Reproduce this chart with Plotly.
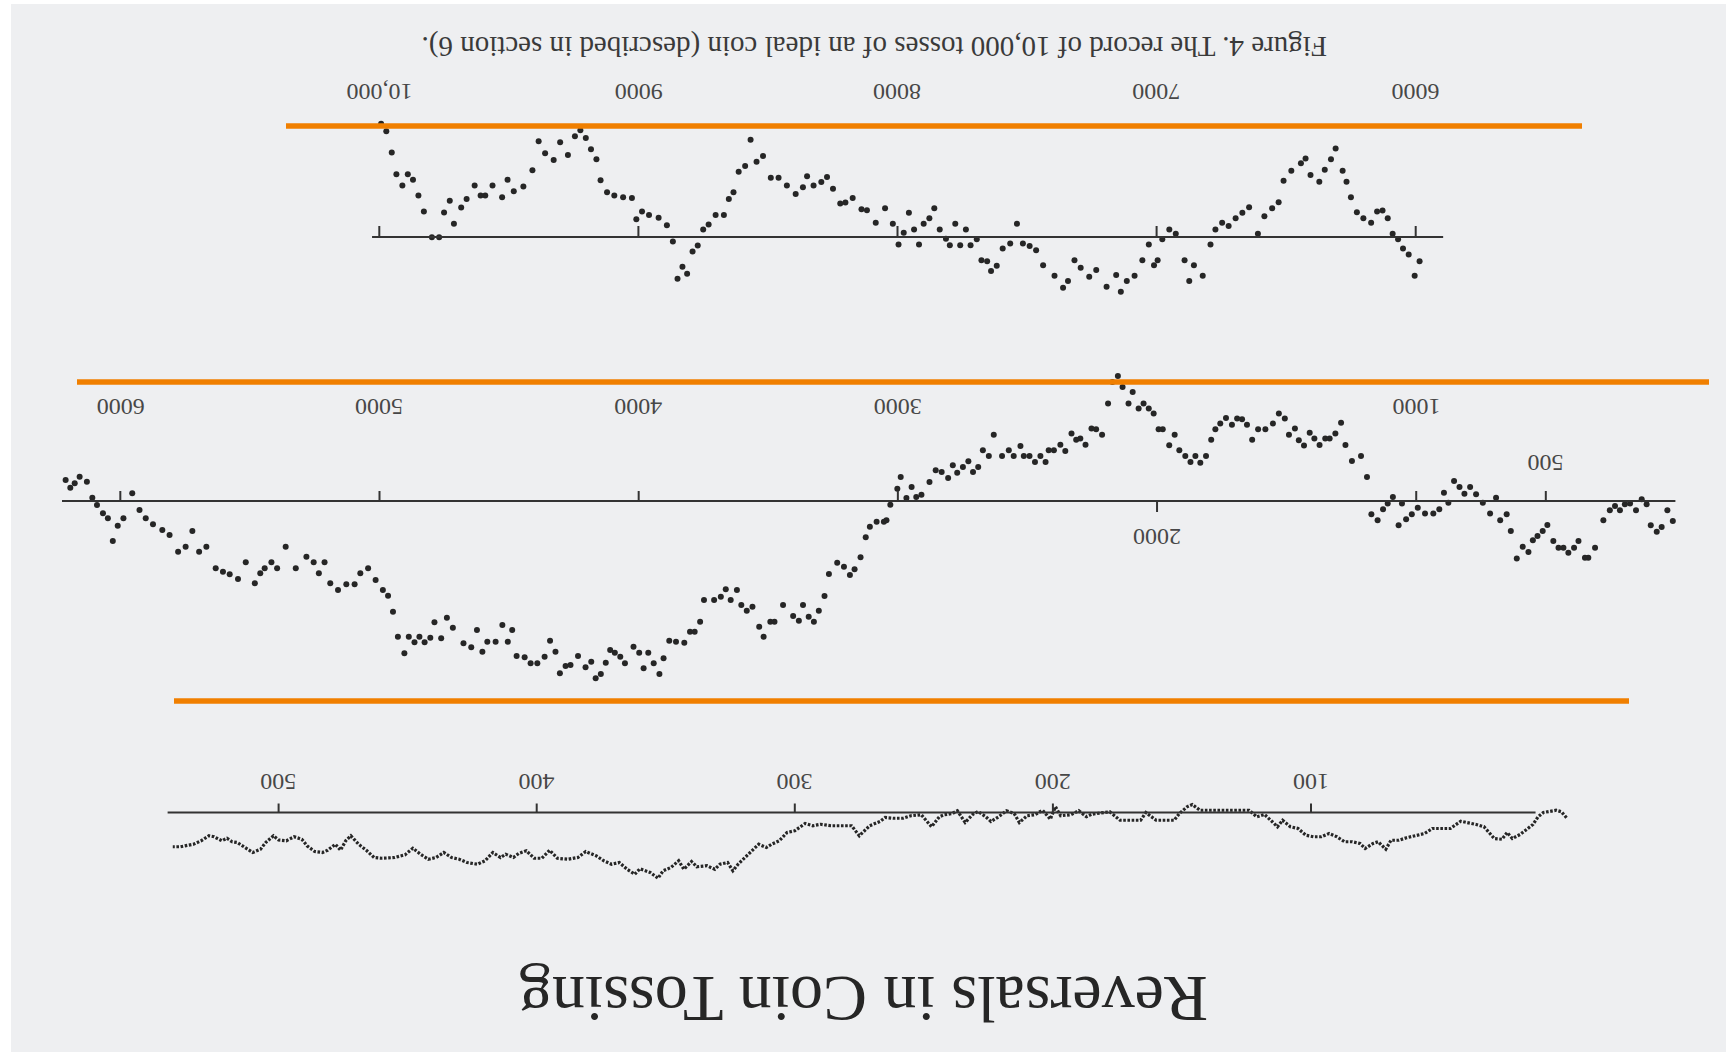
import plotly.graph_objects as go

# ---------------- data ----------------
# deviation of the walk (heads minus tails, arbitrary picture units) against toss number
top_toss = [5985, 6004, 6027, 6049, 6068, 6089, 6108, 6128, 6149, 6172, 6202, 6227, 6250, 6267, 6282,
            6309, 6327, 6351, 6372, 6406, 6425, 6443, 6480, 6510, 6529, 6554, 6584, 6609, 6643, 6669,
            6695, 6722, 6747, 6773, 6792, 6822, 6856, 6874, 6892, 6926, 6951, 6978, 6996, 7010, 7030,
            7055, 7085, 7115, 7138, 7156, 7193, 7233, 7260, 7293, 7317, 7342, 7361, 7394, 7438, 7465,
            7490, 7516, 7539, 7565, 7594, 7617, 7639, 7654, 7676, 7694, 7718, 7736, 7758, 7777, 7798,
            7813, 7837, 7858, 7877, 7899, 7917, 7936, 7956, 7976, 7996, 8018, 8048, 8084, 8118, 8139,
            8173, 8201, 8221, 8249, 8272, 8294, 8324, 8349, 8365, 8393, 8427, 8459, 8489, 8519, 8544,
            8567, 8588, 8613, 8633, 8651, 8670, 8702, 8729, 8750, 8771, 8791, 8812, 8830, 8849, 8867,
            8890, 8922, 8959, 8986, 9008, 9025, 9059, 9093, 9121, 9146, 9162, 9183, 9203, 9224, 9245,
            9272, 9302, 9327, 9360, 9385, 9409, 9444, 9481, 9505, 9526, 9563, 9591, 9609, 9632, 9663,
            9684, 9712, 9728, 9750, 9769, 9797, 9828, 9849, 9870, 9890, 9911, 9934, 9952, 9973, 9993]
top_dev = [9.7, 15.5, 7, 4.6, 0.9, -1.3, -7.5, -10.6, -10.2, -5.7, -7.5, -9.9, -15.9, -22.1, -26.5,
           -35.4, -31.1, -26.9, -22.1, -24.8, -31.4, -29.5, -26.5, -22.5, -13.9, -11.5, -8.3, -1.3, -11.9, -9.7,
           -7.5, -4.4, -5.7, -3, 3, 15.5, 11.3, 17.6, 9.3, -1.3, -3, 0.9, 9.3, 11.3, 3,
           9.3, 15.5, 17.6, 21.9, 15.2, 19.9, 13.2, 15.9, 12.3, 9.3, 17.6, 20.3, 15.5, 11.3, 5.3,
           3.6, 2.6, -5.3, 2.6, 4.6, 11.5, 13.6, 9.7, 9.3, 0.9, 3.3, -3, 3.3, -5.3, 3.3,
           0.7, -3, -11.5, -7.5, -5.3, 3, -3, -9.7, -1.7, 3, -5.3, -11.5, -5.7, -10.7, -11.1,
           -15.6, -13.8, -13.4, -19.3, -24, -22, -20.6, -24.3, -19.9, -17.2, -20.6, -23.7, -23.7, -32.4, -30.1,
           -38.9, -28.4, -26.1, -17.9, -15.2, -8.8, -8.8, -5, -3, 3.4, 5.8, 14.7, 11.9, 16.7, 1.8,
           -4.7, -7.7, -8.8, -10.2, -7.1, -15.6, -15.9, -16.6, -17.9, -22.7, -31.1, -35.1, -39.6, -42.7, -40.3,
           -32.8, -37.9, -30.8, -33.5, -38.3, -26.7, -20.2, -18.3, -22.9, -15.9, -20.6, -16.6, -16.6, -20.6, -15.2,
           -11.8, -5.3, -14.5, -9.8, 0.1, 0.1, -10.2, -16.6, -22.9, -25.1, -20.6, -25.1, -33.8, -42.3, -45.3]

mid_toss = [10, 31, 53, 72, 95, 111, 130, 152, 175, 195, 214, 233, 253, 278, 310, 336, 349, 374, 391, 413,
            432, 451, 471, 494, 512, 532, 550, 567, 589, 612, 635, 651, 676, 692, 715, 743, 769, 792, 814, 833,
            854, 876, 893, 911, 934, 966, 994, 1017, 1039, 1055, 1068, 1090, 1110, 1128, 1149, 1173, 1190, 1213, 1248, 1273,
            1290, 1312, 1334, 1351, 1373, 1393, 1411, 1433, 1453, 1468, 1491, 1507, 1530, 1553, 1582, 1610, 1633, 1653, 1672, 1691,
            1711, 1734, 1756, 1775, 1791, 1811, 1833, 1852, 1871, 1891, 1914, 1932, 1953, 1978, 1994, 2013, 2032, 2052, 2071, 2094,
            2110, 2133, 2151, 2172, 2189, 2212, 2235, 2253, 2276, 2296, 2312, 2330, 2354, 2373, 2398, 2418, 2430, 2450, 2471, 2492,
            2514, 2527, 2553, 2572, 2598, 2630, 2649, 2672, 2690, 2710, 2728, 2749, 2771, 2788, 2806, 2831, 2854, 2878, 2909, 2929,
            2947, 2967, 2989, 3002, 3029, 3044, 3054, 3082, 3108, 3124, 3144, 3167, 3185, 3208, 3234, 3266, 3283, 3305, 3324, 3344,
            3366, 3382, 3404, 3443, 3476, 3492, 3518, 3535, 3561, 3583, 3604, 3621, 3645, 3664, 3683, 3709, 3748, 3763, 3784, 3802,
            3824, 3856, 3882, 3904, 3920, 3942, 3963, 3981, 3998, 4020, 4053, 4071, 4092, 4110, 4127, 4146, 4166, 4183, 4205, 4234,
            4263, 4282, 4304, 4321, 4342, 4363, 4391, 4417, 4440, 4471, 4488, 4505, 4526, 4552, 4584, 4603, 4624, 4646, 4676, 4717,
            4740, 4762, 4788, 4804, 4826, 4846, 4865, 4887, 4904, 4929, 4948, 4967, 4987, 5015, 5044, 5074, 5096, 5128, 5160, 5190,
            5212, 5234, 5254, 5282, 5323, 5362, 5395, 5417, 5443, 5460, 5481, 5516, 5546, 5578, 5604, 5632, 5668, 5696, 5722, 5748,
            5777, 5810, 5838, 5874, 5902, 5926, 5954, 5988, 6010, 6029, 6048, 6067, 6090, 6108, 6129, 6157, 6176, 6193, 6211]
mid_dev = [8, 3.7, 10.4, 12.3, 9.7, 1.3, -0.7, 3.7, 1, 1.3, 3.7, 2, 3.7, 7.7, 18.7, 22.7, 22.7, 16, 18.7, 20.7,
           18.7, 18.7, 16, 9.6, 12, 14, 15.7, 20.4, 18.3, 23, 12, 5.3, 7.7, -1.3, 5, 0.7, -2.7, -5.6, -2.9, -5.6,
           -8, 0.7, -3.3, 3.3, 5, 5, 2.7, 5.3, 7.3, 1, 9.7, -1.6, 1, 3.3, 7.7, 5.3, -9.6, -18, -16, -22.4,
           -31.3, -27, -25, -25, -22.4, -25, -27.3, -22.2, -24.3, -29, -26.5, -33, -35, -31, -28.7, -28.7, -24.5, -30.5, -32.7, -33,
           -30.5, -33.2, -31, -28.7, -24.5, -18, -15.3, -18, -15.6, -18, -20.3, -26.5, -22.3, -28.7, -28.7, -35, -37, -39, -37, -43.6,
           -39, -45.6, -50, -47.6, -39, -26.5, -28.7, -29, -22.5, -25, -24.5, -27, -20, -22.5, -20.3, -20.3, -15.6, -18, -15.6, -18,
           -18, -22, -18, -20.3, -18, -26.5, -18, -20.3, -13.6, -11.6, -15.9, -13.6, -11.3, -14.3, -9.2, -11.6, -12.3, -7.6, -2.5, -1.6,
           -5.6, -1.2, -9.6, -4.9, 1.5, 7.7, 8.3, 8.3, 10.3, 14.5, 22.5, 27.3, 29.6, 26.3, 24.7, 29.2, 38, 43.9, 48.3, 46.3,
           41.6, 47.9, 46, 41.6, 48.3, 48.3, 54.3, 50.3, 42.3, 43.9, 41.6, 35.6, 39.6, 35.3, 38.3, 39.6, 39.6, 48.3, 52.3, 52.3,
           56.7, 56.3, 55.9, 62.9, 69.2, 64.9, 60.7, 66.9, 60.7, 58.3, 64.9, 62.3, 60.7, 59.6, 64.7, 69.2, 70.9, 64.3, 66.5, 62,
           65.6, 66, 68.9, 60.3, 55.9, 62.3, 64.9, 64.9, 62.5, 62, 51.6, 56.3, 49.6, 56.3, 56.3, 60.3, 51.6, 58.5, 56.9, 50.7,
           46.7, 54.9, 48.5, 54.7, 56.5, 54.3, 56.5, 54.3, 60.9, 54.3, 44.3, 37.9, 35.6, 31.6, 26.9, 28.9, 33.3, 33.3, 35.6, 32.9,
           24.5, 28.9, 24.5, 22.3, 26.9, 18.3, 26.9, 24.5, 26.9, 28.9, 32.9, 24.5, 31.2, 29.3, 28.3, 26.9, 18.3, 20.3, 12, 18.3,
           20.3, 13.6, 11.6, 9.3, 6.9, 3.6, -3.1, 6.9, 9.9, 16, 6.9, 4.9, 1.6, -1.3, -7.7, -9.7, -7.1, -5.3, -8.4]

bot_toss = [1, 3, 5, 8, 10, 12, 14, 16, 19, 22, 24, 26, 29, 31, 33, 36, 39, 42, 46, 50,
            53, 56, 60, 63, 66, 69, 71, 74, 76, 79, 81, 84, 87, 90, 93, 96, 99, 102, 105, 108,
            111, 113, 115, 118, 121, 124, 127, 131, 135, 139, 143, 146, 148, 151, 153, 156, 160, 164, 166, 170,
            174, 178, 182, 185, 187, 190, 193, 197, 199, 201, 204, 207, 210, 213, 215, 218, 221, 224, 226, 229,
            231, 234, 237, 239, 242, 244, 247, 249, 251, 255, 258, 262, 265, 267, 271, 273, 275, 278, 282, 286,
            290, 293, 296, 300, 303, 306, 309, 311, 314, 316, 319, 322, 324, 326, 329, 331, 334, 338, 340, 343,
            345, 348, 351, 353, 356, 360, 362, 365, 368, 371, 374, 377, 381, 384, 388, 392, 395, 398, 401, 404,
            407, 409, 412, 414, 417, 420, 423, 427, 430, 433, 436, 439, 442, 445, 448, 451, 455, 460, 463, 466,
            469, 472, 474, 476, 478, 481, 483, 486, 489, 491, 494, 497, 500, 502, 505, 507, 510, 512, 516, 518,
            520, 522, 525, 527, 530, 533, 538, 541]
bot_dev = [2.1, -0.3, -0.9, -0.3, 0, 1.7, 4.8, 6.4, 8.8, 10.4, 8, 10.7, 10.4, 8, 5.7, 4.8, 4, 3.5, 6.4, 6.4,
           6.4, 8.4, 9.3, 10.1, 11.1, 11.1, 14.7, 11.7, 12.4, 14.4, 12.4, 11.7, 11.7, 9.7, 8.4, 9.7, 9.7, 9.1, 6.4, 5.7,
           3.1, 5.7, 3.7, 0.8, 1.7, -0.9, -0.9, -0.9, -0.9, -0.9, -0.9, -3.2, -2.3, 0.4, 3.1, 3.1, 3.1, 0, 3.1, 3.1,
           3.1, -0.3, 0.2, 0.7, 1.7, -0.7, 0.9, 1.3, -2.3, 2.7, -0.9, 0.9, 1.3, 4, 0.4, -0.7, 1.7, 3.6, 1.7, -0.4,
           0.7, 4, -0.7, 0.4, 0.9, 1.7, 5.7, 3.1, 0.9, 1.3, 2.3, 2.3, 2, 3.6, 5.3, 7.3, 9.3, 5.3, 5.3, 5.3,
           4.7, 5.3, 4.4, 7.3, 8, 11.3, 12.7, 14, 12.7, 14.7, 17.3, 20.7, 23.3, 20, 20.7, 22.7, 21.3, 21.7, 19.6, 22.7,
           19.3, 22, 23.3, 26.3, 24, 22.5, 24.7, 22.7, 20, 20.7, 19.3, 17.3, 15.6, 18, 18.7, 18.3, 15.1, 18.3, 18.3, 15.3,
           16.4, 18, 16.7, 18, 16, 19.3, 20.7, 20, 18.7, 18, 16, 18, 18.7, 16.7, 14.3, 16.9, 18, 18.3, 18, 15.1,
           12.7, 9.3, 11.3, 15.1, 12.7, 15.1, 16, 15.6, 13.3, 10.7, 9.7, 11.3, 11, 9.3, 12, 14.7, 16, 14.7, 12, 11.7,
           10.3, 11.3, 9.7, 9.3, 11.3, 12.7, 13.7, 13.7]

top_ticks = [6000, 7000, 8000, 9000, 10000]
top_tick_labels = ["6000", "7000", "8000", "9000", "10,000"]
mid_ticks_up = [500, 1000, 3000, 4000, 5000, 6000]
mid_ticks_down = [2000]
mid_tick_labels_upper = {1000: "1000", 3000: "3000", 4000: "4000", 5000: "5000", 6000: "6000"}
mid_tick_label_500 = "500"
mid_tick_label_2000 = "2000"
bot_ticks = [100, 200, 300, 400, 500]
bot_tick_labels = ["100", "200", "300", "400", "500"]

title_text = "Reversals in Coin Tossing"
caption_text = "Figure 4. The record of 10,000 tosses of an ideal coin (described in section 6)."

# ---------------- layout constants (pixels) ----------------
W, H = 1726, 1052
K = 2.5  # pixels per deviation unit
INK = "#262626"
ORANGE = "#F07F00"
BG = "#eeeff1"


def xrange_for(t_a, px_a, t_b, px_b):
    s = (px_b - px_a) / (t_b - t_a)
    return [t_a + (0 - px_a) / s, t_a + (W - px_a) / s]


def yrange_for(px_axis):
    # positive deviations drawn downward (figure is printed upside down)
    return [(H - px_axis) / K, (0 - px_axis) / K]


def py(px):
    return 1 - px / H


TOP_AXIS, MID_AXIS, BOT_AXIS = 237.0, 501.0, 812.5

fig = go.Figure()

fig.add_trace(go.Scatter(x=top_toss, y=top_dev, mode="markers", xaxis="x", yaxis="y",
                         marker=dict(size=6, color=INK), hoverinfo="skip", showlegend=False))
fig.add_trace(go.Scatter(x=mid_toss, y=mid_dev, mode="markers", xaxis="x2", yaxis="y2",
                         marker=dict(size=6, color=INK), hoverinfo="skip", showlegend=False))
fig.add_trace(go.Scatter(x=bot_toss, y=bot_dev, mode="lines", xaxis="x3", yaxis="y3",
                         line=dict(width=3.2, color=INK, dash="2.6px,1.6px"),
                         hoverinfo="skip", showlegend=False))

ax_common = dict(visible=False, domain=[0, 1], fixedrange=True)
fig.update_layout(
    width=W, height=H,
    margin=dict(l=0, r=0, t=0, b=0),
    paper_bgcolor="white",
    plot_bgcolor="rgba(0,0,0,0)",
    xaxis=dict(range=xrange_for(10000, 379.3, 6000, 1415.7), anchor="y", **ax_common),
    yaxis=dict(range=yrange_for(TOP_AXIS), anchor="x", **ax_common),
    xaxis2=dict(range=xrange_for(5000, 379.5, 0, 1675.4), anchor="y2", **ax_common),
    yaxis2=dict(range=yrange_for(MID_AXIS), anchor="x2", **ax_common),
    xaxis3=dict(range=xrange_for(400, 536.7, 100, 1311.0), anchor="y3", **ax_common),
    yaxis3=dict(range=yrange_for(BOT_AXIS), anchor="x3", **ax_common),
)

shapes = []
# scanned page background with a thin white margin on the left and top
shapes.append(dict(type="rect", xref="paper", yref="paper", x0=11 / W, x1=1, y0=0, y1=py(4),
                   fillcolor=BG, line=dict(width=0), layer="below"))

# base lines of the three records
axis_line = dict(color="#333333", width=2.2)
shapes.append(dict(type="line", xref="x", yref="y", x0=10028, x1=5894, y0=0, y1=0, line=axis_line))
shapes.append(dict(type="line", xref="x2", yref="y2", x0=6225, x1=0, y0=0, y1=0, line=axis_line))
shapes.append(dict(type="line", xref="x3", yref="y3", x0=543, x1=13, y0=0, y1=0, line=axis_line))

tick_line = dict(color="#333333", width=2)
for t in top_ticks:
    shapes.append(dict(type="line", xref="x", yref="y", x0=t, x1=t, y0=0, y1=-11 / K, line=tick_line))
for t in mid_ticks_up:
    shapes.append(dict(type="line", xref="x2", yref="y2", x0=t, x1=t, y0=0, y1=-10 / K, line=tick_line))
for t in mid_ticks_down:
    shapes.append(dict(type="line", xref="x2", yref="y2", x0=t, x1=t, y0=0, y1=11 / K, line=tick_line))
for t in bot_ticks:
    shapes.append(dict(type="line", xref="x3", yref="y3", x0=t, x1=t, y0=0, y1=-9 / K, line=tick_line))

# orange highlight rules
for x0, x1, yy in [(286, 1582, 126), (77, 1709, 382), (174, 1629, 701)]:
    shapes.append(dict(type="line", xref="paper", yref="paper", x0=x0 / W, x1=x1 / W,
                       y0=py(yy), y1=py(yy), line=dict(color=ORANGE, width=5.5)))
fig.update_layout(shapes=shapes)

ann = []
lab_font = dict(family="Liberation Serif, Times New Roman, serif", size=24, color="#474747")
for t, s in zip(top_ticks, top_tick_labels):
    ann.append(dict(x=t, xref="x", y=py(92.5), yref="paper", text=s, showarrow=False,
                    textangle=180, font=lab_font, xanchor="center", yanchor="middle"))
for t, s in mid_tick_labels_upper.items():
    ann.append(dict(x=t, xref="x2", y=py(407), yref="paper", text=s, showarrow=False,
                    textangle=180, font=lab_font, xanchor="center", yanchor="middle"))
ann.append(dict(x=500, xref="x2", y=py(463), yref="paper", text=mid_tick_label_500, showarrow=False,
                textangle=180, font=lab_font, xanchor="center", yanchor="middle"))
ann.append(dict(x=2000, xref="x2", y=py(537), yref="paper", text=mid_tick_label_2000, showarrow=False,
                textangle=180, font=lab_font, xanchor="center", yanchor="middle"))
for t, s in zip(bot_ticks, bot_tick_labels):
    ann.append(dict(x=t, xref="x3", y=py(782), yref="paper", text=s, showarrow=False,
                    textangle=180, font=lab_font, xanchor="center", yanchor="middle"))

ann.append(dict(x=875 / W, xref="paper", y=py(47), yref="paper", text=caption_text, showarrow=False,
                textangle=180, xanchor="center", yanchor="middle",
                font=dict(family="Liberation Serif, Times New Roman, serif", size=29, color="#3a3a3a")))
ann.append(dict(x=864 / W, xref="paper", y=py(1000), yref="paper", text=title_text, showarrow=False,
                textangle=180, xanchor="center", yanchor="middle",
                font=dict(family="Liberation Serif, Times New Roman, serif", size=66, color="#262626")))
fig.update_layout(annotations=ann)

fig.write_html("out.html", config={"displayModeBar": False, "staticPlot": True},
               post_script="document.body.style.margin='0px';document.body.style.padding='0px';"
                           "document.body.style.overflow='hidden';")
